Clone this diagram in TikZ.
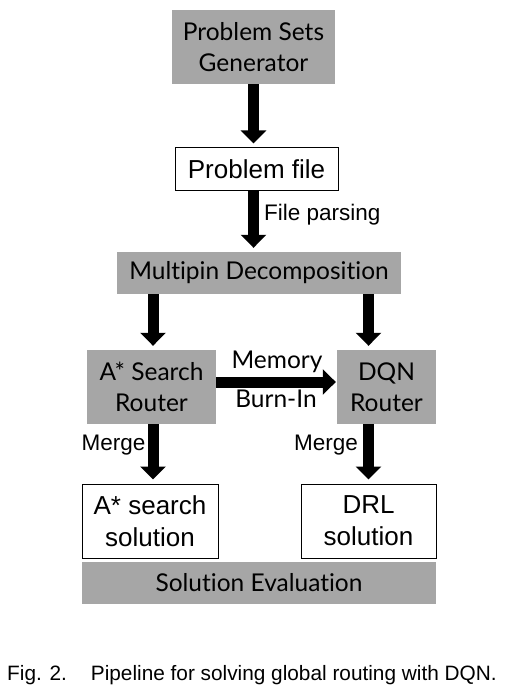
\documentclass[tikz,border=0pt]{standalone}
\usepackage{fontspec}
\setmainfont{Liberation Sans}
\newfontfamily\gill[Ligatures=NoCommon]{Lato}
\usetikzlibrary{arrows.meta,calc}
\definecolor{boxgray}{HTML}{A6A6A6}
\begin{document}
\begin{tikzpicture}[x=1pt,y=-1pt,
  graybox/.style={fill=boxgray,draw=none,inner sep=0pt,align=center,
    font=\gill\fontsize{24.5}{31}\selectfont},
  whitebox/.style={fill=white,draw=black,line width=1pt,inner sep=0pt,align=center,
    font=\fontsize{26}{32}\selectfont},
  flow/.style={line width=11pt,-{Triangle[width=25pt,length=13pt]},shorten >=4pt},
  lbl/.style={inner sep=0pt,font=\fontsize{22.5}{27}\selectfont},
  glbl/.style={inner sep=0pt,font=\gill\fontsize{24.5}{31}\selectfont}]
\useasboundingbox (0,0) rectangle (530,700);
\fill[white] (0,0) rectangle (530,700);
\node[graybox,minimum width=163pt,minimum height=74pt] (gen) at (253.5,47) {Problem Sets\\Generator};
\node[whitebox,minimum width=163pt,minimum height=43pt] (pfile) at (256.5,169.5) {Problem file};
\node[graybox,minimum width=284pt,minimum height=42pt] (multi) at (259,273) {Multipin Decomposition};
\node[graybox,minimum width=129pt,minimum height=74pt] (astar) at (151.5,387) {A* Search\\Router};
\node[graybox,minimum width=99pt,minimum height=74pt] (dqn) at (386.5,387) {DQN\\Router};
\node[whitebox,minimum width=136pt,minimum height=74pt] (asol) at (150,521) {A* search\\solution};
\node[whitebox,minimum width=135pt,minimum height=74pt] (drl) at (368.5,521) {DRL\\solution};
\node[graybox,minimum width=354pt,minimum height=42pt] (eval) at (259,583) {Solution Evaluation};
% connectors
\draw[flow] (gen.south) -- (gen.south |- pfile.north);
\draw[flow] (gen.south |- pfile.south) -- (gen.south |- multi.north);
\draw[flow] ([xshift=1.5pt]astar.north |- multi.south) -- ([xshift=1.5pt]astar.north);
\draw[flow] (drl.north |- multi.south) -- (drl.north |- dqn.north);
\draw[flow,shorten >=1pt] ([yshift=5pt]astar.east) -- ([yshift=5pt]dqn.west);
\draw[flow] ([xshift=1.5pt]astar.south) -- ([xshift=1.5pt]astar.south |- asol.north);
\draw[flow] (drl.north |- dqn.south) -- (drl.north);
% labels
\node[lbl,anchor=west] (fp) at (264,215) {File parsing};
\node[lbl] (m1) at (113.5,445) {Merge};
\node[lbl] (m2) at (326,445) {Merge};
\node[glbl] (mem) at (277,362) {Memory};
\node[glbl] (burn) at (276,399) {Burn-In};
\node[anchor=west,inner sep=0pt,font=\fontsize{20.8}{25}\selectfont] (cap) at (7,675) {Fig. 2.\hspace{24pt}Pipeline for solving global routing with DQN.};
\end{tikzpicture}
\end{document}
